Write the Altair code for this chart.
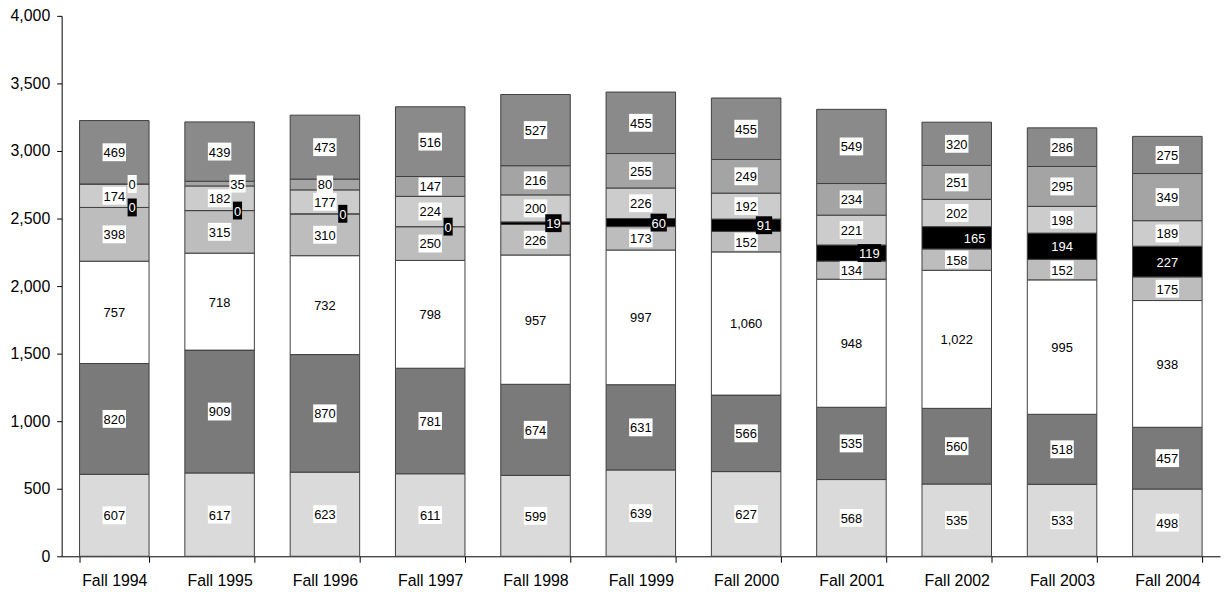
import altair as alt
import pandas as pd

years = ["Fall 1994", "Fall 1995", "Fall 1996", "Fall 1997", "Fall 1998", "Fall 1999",
         "Fall 2000", "Fall 2001", "Fall 2002", "Fall 2003", "Fall 2004"]

# segments from bottom to top
seg_names = ["s1", "s2", "s3", "s4", "s5", "s6", "s7", "s8"]
s1 = [607, 617, 623, 611, 599, 639, 627, 568, 535, 533, 498]
s2 = [820, 909, 870, 781, 674, 631, 566, 535, 560, 518, 457]
s3 = [757, 718, 732, 798, 957, 997, 1060, 948, 1022, 995, 938]
s4 = [398, 315, 310, 250, 226, 173, 152, 134, 158, 152, 175]
s5 = [0, 0, 0, 0, 19, 60, 91, 119, 165, 194, 227]
s6 = [174, 182, 177, 224, 200, 226, 192, 221, 202, 198, 189]
s7 = [0, 35, 80, 147, 216, 255, 249, 234, 251, 295, 349]
s8 = [469, 439, 473, 516, 527, 455, 455, 549, 320, 286, 275]
series = [s1, s2, s3, s4, s5, s6, s7, s8]
y_ticks = [0, 500, 1000, 1500, 2000, 2500, 3000, 3500, 4000]

seg_colors = ["#dadada", "#7a7a7a", "#ffffff", "#bdbdbd", "#000000", "#cccccc", "#a4a4a4", "#8a8a8a"]

rows = []
for i, (name, vals) in enumerate(zip(seg_names, series)):
    for yr, v in zip(years, vals):
        rows.append({"year": yr, "seg": name, "order": i, "value": v})
df = pd.DataFrame(rows)

FONT = "Liberation Sans"

base = alt.Chart(df).transform_stack(
    stack="value", groupby=["year"],
    sort=[alt.SortField("order", order="ascending")],
    as_=["y0", "y1"],
).transform_calculate(
    mid="(datum.y0 + datum.y1) / 2",
    w="'w' + length(format(datum.value, ',d'))",
)

xaxis = alt.Axis(title=None, labelAngle=0, tickBand="extent", grid=False,
                 domainColor="black", tickColor="black", tickSize=6,
                 labelFont=FONT, labelFontSize=16, labelColor="black",
                 labelPadding=10)
yaxis = alt.Axis(title=None, values=y_ticks, format=",d",
                 grid=False, domainColor="black", tickColor="black",
                 tickSize=5, labelPadding=7, labelFont=FONT,
                 labelFontSize=16, labelColor="black")
xscale = alt.Scale(paddingInner=0.34, paddingOuter=0.17)
yscale = alt.Scale(domain=[0, 4000], nice=False)

def xenc():
    return alt.X("year:N", sort=years, scale=xscale, axis=xaxis)

def yenc(field):
    return alt.Y(field, type="quantitative", scale=yscale, axis=yaxis)

bars = base.mark_bar(stroke="#404040", strokeWidth=1).encode(
    x=xenc(),
    y=yenc("y0"),
    y2="y1:Q",
    color=alt.Color("seg:N", scale=alt.Scale(domain=seg_names, range=seg_colors), legend=None),
)

box_paths = {
    "w1": "M-0.46,-0.9H0.46V0.9H-0.46Z",
    "w2": "M-0.82,-0.9H0.82V0.9H-0.82Z",
    "w3": "M-1.18,-0.9H1.18V0.9H-1.18Z",
    "w5": "M-1.74,-0.9H1.74V0.9H-1.74Z",
}

shifted = "(datum.seg == 's5' && datum.value < 180) || (datum.seg == 's7' && datum.value < 50)"

def label_layers(filt, off):
    b = base.transform_filter(filt)
    boxes = b.mark_point(filled=True, opacity=1, size=400, strokeWidth=0, xOffset=off).encode(
        x=xenc(),
        y=yenc("mid"),
        shape=alt.Shape("w:N", scale=alt.Scale(domain=list(box_paths.keys()),
                                                range=list(box_paths.values())), legend=None),
        fill=alt.condition("datum.seg == 's5'", alt.value("black"), alt.value("white")),
    )
    texts = b.mark_text(font=FONT, fontSize=13, baseline="middle", align="center", dx=off, dy=1).encode(
        x=xenc(),
        y=yenc("mid"),
        text=alt.Text("value:Q", format=",d"),
        fill=alt.condition("datum.seg == 's5'", alt.value("white"), alt.value("black")),
    )
    return [boxes, texts]

layers = [bars] + label_layers("!(" + shifted + ")", 0) + label_layers(shifted, 18)

chart = alt.layer(*layers).properties(
    width=1166, height=544,
    autosize=alt.AutoSizeParams(type="none"),
    padding={"left": 54, "top": 6, "right": 1, "bottom": 30},
).configure_view(stroke=None)

chart.save("out.html", embed_options={"renderer": "svg", "actions": False})
